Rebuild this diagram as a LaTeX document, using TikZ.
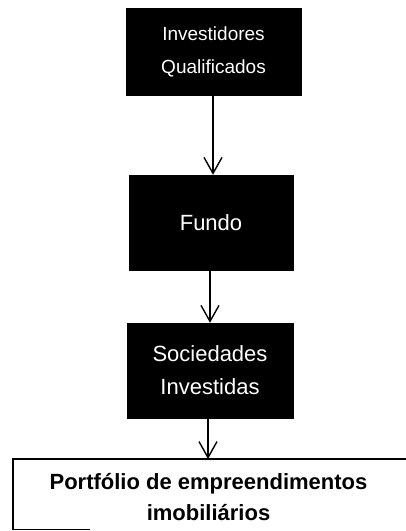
\documentclass[tikz,border=0pt]{standalone}
\usepackage{fontspec}
\setmainfont{Liberation Sans}
\usetikzlibrary{arrows.meta}
\begin{document}
\begin{tikzpicture}[x=1pt,y=-1pt,
  darkbox/.style={fill=black,draw=black,inner sep=0pt,align=center,text=white,
    font=\fontsize{22}{33}\selectfont},
  frame/.style={draw=black,line width=1.5pt},
  flow/.style={line width=1.4pt,-{Straight Barb[length=16pt,width=18pt,line width=1.4pt]}}]
\useasboundingbox (0,0) rectangle (405,531);

% chain of entities
\node[darkbox,minimum width=175pt,minimum height=87pt,font=\fontsize{19}{33}\selectfont] (inv) at (213.5,51.5) {Investidores\\Qualificados};
\node[darkbox,minimum width=164pt,minimum height=95pt] (fundo) at (211,222.5) {Fundo};
\node[darkbox,minimum width=166pt,minimum height=95pt] (soc) at (210,370.5) {Sociedades\\Investidas};

% portfolio area: open frame running off the right edge, and its caption
\node[minimum width=399pt,minimum height=70pt,inner sep=0pt,anchor=north west] (port) at (13,459) {};
\draw[frame] (port.north east) -- (port.north west) -- (port.south west) -- ([xshift=77pt]port.south west);
\node[align=center,inner sep=0pt,font=\fontsize{22}{31}\selectfont\bfseries] (portl) at (208.5,497) {Portfólio de empreendimentos\\imobiliários};

% connectors
\draw[flow] (inv.south -| 213,0) -- (fundo.north -| 213,0);
\draw[flow] (fundo.south -| 210,0) -- (soc.north -| 210,0);
\draw[flow] (soc.south -| 208,0) -- (port.north -| 208,0);
\end{tikzpicture}
\end{document}
